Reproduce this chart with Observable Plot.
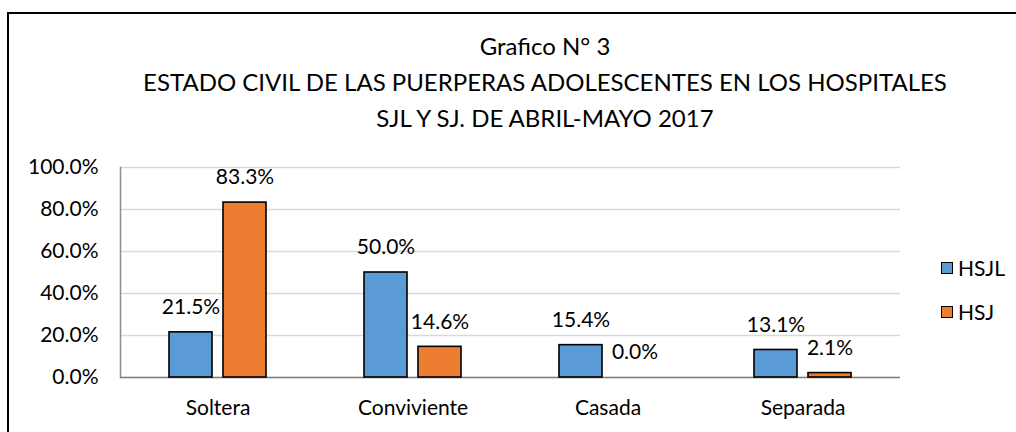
<!DOCTYPE html>
<html>
<head>
<meta charset="utf-8">
<script src="https://cdn.jsdelivr.net/npm/d3@7"></script>
<script src="https://cdn.jsdelivr.net/npm/@observablehq/plot@0.6"></script>
<style>
  body { margin: 0; background: #fff; }
  #wrap { position: relative; width: 1016px; height: 432px; overflow: hidden; font-family: Lato, "Open Sans", sans-serif; color: #000; }
  #border { position: absolute; left: 7px; top: 12px; width: 1100px; height: 600px; border-left: 2.5px solid #000; border-top: 2.5px solid #000; }
  #title { position: absolute; left: 0; width: 1090px; top: 28px; text-align: center; font-size: 24px; line-height: 36px; }
  #chart { position: absolute; left: 0; top: 140px; }
  .leg { position: absolute; left: 941px; display: flex; align-items: center; font-size: 21px; }
  .sw { width: 10px; height: 10px; border: 1.5px solid #000; margin-right: 5px; }
</style>
</head>
<body>
<div id="wrap">
  <div id="border"></div>
  <div id="title"></div>
  <div id="chart"></div>
  <div id="legend"></div>
</div>
<script>
const titleLines = ["Grafico N° 3", "ESTADO CIVIL DE LAS PUERPERAS ADOLESCENTES EN LOS HOSPITALES", "SJL Y SJ. DE ABRIL-MAYO 2017"];
const categories = ["Soltera", "Conviviente", "Casada", "Separada"];
const series = ["HSJL", "HSJ"];
const hsjl = [0.215, 0.500, 0.154, 0.131];
const hsj = [0.833, 0.146, 0.000, 0.021];
const colors = ["#5b9bd5", "#ed7d31"];
const yTicks = [0, 0.2, 0.4, 0.6, 0.8, 1.0];

document.getElementById("title").innerHTML = titleLines.map(t => `<div>${t}</div>`).join("");

const data = categories.flatMap((c, i) => [
  {cat: c, ser: series[0], v: hsjl[i]},
  {cat: c, ser: series[1], v: hsj[i]}
]);
const fmt = d3.format(".1%");

const chart = Plot.plot({
  width: 1016,
  height: 292,
  marginLeft: 119,
  marginRight: 116,
  marginTop: 27,
  marginBottom: 55,
  style: {fontFamily: "Lato, 'Open Sans', sans-serif", fontSize: "21px", color: "#000", background: "transparent", overflow: "visible"},
  fx: {domain: categories, padding: 0, label: null, axis: "bottom", tickSize: 0, tickPadding: 23},
  x: {domain: series, paddingInner: 0.2, paddingOuter: 0.873, axis: null},
  y: {domain: [0, 1], ticks: yTicks, tickFormat: d3.format(".1%"), label: null, tickSize: 0, tickPadding: 22},
  color: {domain: series, range: colors},
  marks: [
    Plot.gridY(yTicks, {stroke: "#d9d9d9", strokeOpacity: 1, strokeWidth: 1.5}),
    Plot.frame({anchor: "left", facetAnchor: "left", stroke: "#8c8c8c", strokeWidth: 1.5}),
    Plot.ruleY([0], {stroke: "#7f7f7f", strokeWidth: 1.5}),
    Plot.barY(data, {fx: "cat", x: "ser", y: "v", fill: "ser", stroke: "#000", strokeWidth: 1.6}),
    Plot.text(data, {fx: "cat", x: "ser", y: "v", text: d => fmt(d.v), dy: -25, fontSize: 21, fill: "#000"})
  ]
});
document.getElementById("chart").appendChild(chart);

const legend = document.getElementById("legend");
series.forEach((s, i) => {
  const el = document.createElement("div");
  el.className = "leg";
  el.style.top = (255 + i * 44) + "px";
  el.innerHTML = `<div class="sw" style="background:${colors[i]}"></div><span>${s}</span>`;
  legend.appendChild(el);
});
</script>
</body>
</html>
